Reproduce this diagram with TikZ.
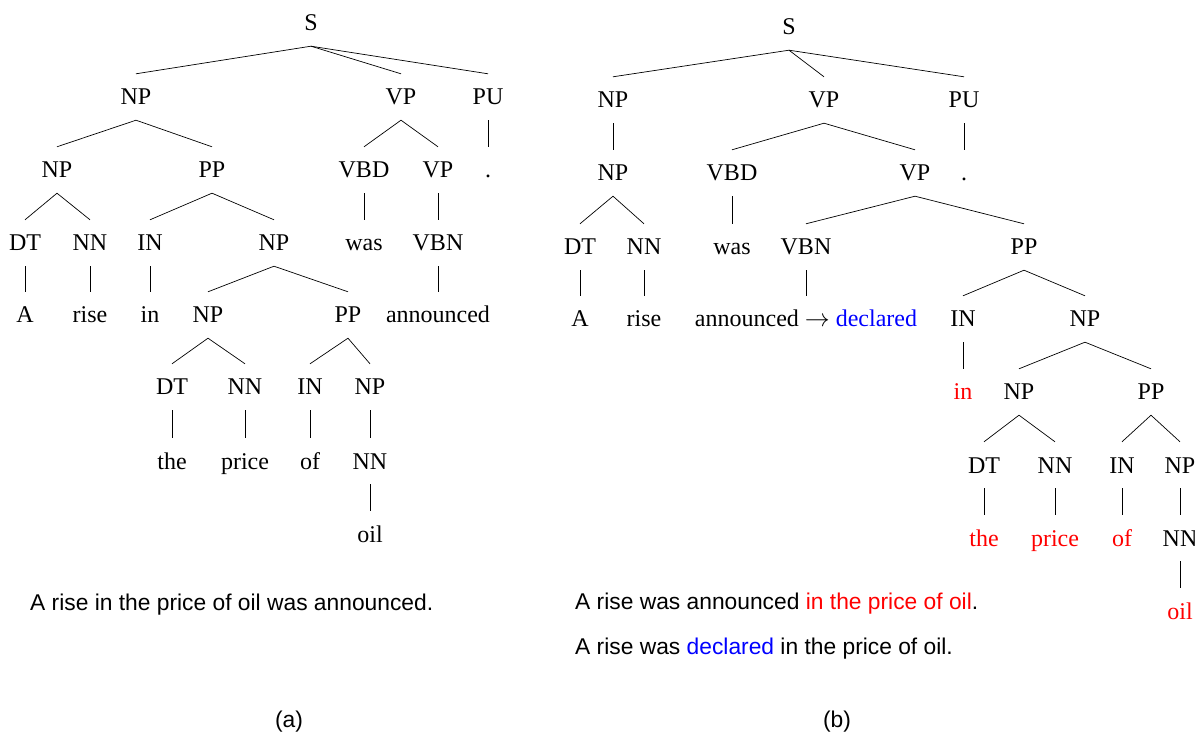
\documentclass[tikz,border=0pt]{standalone}
\usepackage{fontspec}
\setmainfont{Liberation Serif}
\setsansfont{Liberation Sans}
\usepackage{tikz}
\tikzstyle{tag}=[inner xsep=0pt, inner ysep=15pt, text height=16pt, text depth=0pt,
 font=\fontsize{24}{28}\selectfont]
\tikzstyle{hl}=[tag, text=red]
\tikzstyle{sent}=[inner sep=0pt, anchor=base west, font=\sffamily\fontsize{22.8}{27}\selectfont]
\tikzstyle{subcap}=[inner sep=0pt, font=\sffamily\fontsize{22.8}{27}\selectfont]
\tikzstyle{branch}=[line width=0.7pt]
\begin{document}
\begin{tikzpicture}[x=1pt, y=-1pt]
	\useasboundingbox (0,0) rectangle (1195,735);

	    % Tree (a)
		\node[tag] (lS) at (311,23) {S};
		\foreach \xpos/\lab/\txt in {136/lNPa/NP, 401/lVPa/VP, 488/lPU/PU}
		\node[tag] (\lab) at (\xpos,97) {\txt};
		\foreach \xpos/\lab/\txt in {57/lNPb/NP, 212/lPPa/PP, 364/lVBD/VBD, 438/lVPb/VP, 488/lDot/.}
		\node[tag] (\lab) at (\xpos,170) {\txt};
		\foreach \xpos/\lab/\txt in {25/lDTa/DT, 90/lNNa/NN, 150/lINa/IN, 274/lNPc/NP, 364/lWas/was, 438/lVBN/VBN}
		\node[tag] (\lab) at (\xpos,243) {\txt};
		\foreach \xpos/\lab/\txt in {25/lA/A, 90/lRise/rise, 150/lIn/in, 208/lNPd/NP, 348/lPPb/PP, 438/lAnn/announced}
		\node[tag] (\lab) at (\xpos,315) {\txt};
		\foreach \xpos/\lab/\txt in {172/lDTb/DT, 245/lNNb/NN, 310/lINb/IN, 370/lNPe/NP}
		\node[tag] (\lab) at (\xpos,387) {\txt};
		\foreach \xpos/\lab/\txt in {172/lThe/the, 245/lPrice/price, 310/lOf/of, 370/lNNc/NN}
		\node[tag] (\lab) at (\xpos,461) {\txt};
		\node[tag] (lOil) at (370,534) {oil};

		\foreach \from/\to in {lS/lNPa, lS/lVPa, lS/lPU, lNPa/lNPb, lNPa/lPPa, lVPa/lVBD, lVPa/lVPb,
		  lPU/lDot, lNPb/lDTa, lNPb/lNNa, lPPa/lINa, lPPa/lNPc, lVBD/lWas, lVPb/lVBN,
		  lDTa/lA, lNNa/lRise, lINa/lIn, lNPc/lNPd, lNPc/lPPb, lVBN/lAnn,
		  lNPd/lDTb, lNPd/lNNb, lPPb/lINb, lPPb/lNPe, lDTb/lThe, lNNb/lPrice, lINb/lOf,
		  lNPe/lNNc, lNNc/lOil}
		\draw[branch] (\from.south) -- (\to.north);

	    % Tree (b)
		\node[tag] (rS) at (789,27) {S};
		\foreach \xpos/\lab/\txt in {613/rNPa/NP, 824/rVPa/VP, 964/rPU/PU}
		\node[tag] (\lab) at (\xpos,100) {\txt};
		\foreach \xpos/\lab/\txt in {613/rNPb/NP, 732/rVBD/VBD, 915/rVPb/VP, 964/rDot/.}
		\node[tag] (\lab) at (\xpos,173) {\txt};
		\foreach \xpos/\lab/\txt in {580/rDTa/DT, 644/rNNa/NN, 732/rWas/was, 806/rVBN/VBN, 1024/rPPa/PP}
		\node[tag] (\lab) at (\xpos,247) {\txt};
		\foreach \xpos/\lab/\txt in {580/rA/A, 644/rRise/rise, 963/rINa/IN, 1085/rNPc/NP}
		\node[tag] (\lab) at (\xpos,319) {\txt};
		\node[tag] (rAnn) at (806,319) {announced $\rightarrow$ \textcolor{blue}{declared}};
		\node[hl] (rIn) at (963,392) {in};
		\foreach \xpos/\lab/\txt in {1019/rNPd/NP, 1151/rPPb/PP}
		\node[tag] (\lab) at (\xpos,392) {\txt};
		\foreach \xpos/\lab/\txt in {984/rDTb/DT, 1055/rNNb/NN, 1122/rINb/IN, 1180/rNPe/NP}
		\node[tag] (\lab) at (\xpos,465) {\txt};
		\foreach \xpos/\lab/\txt in {984/rThe/the, 1055/rPrice/price, 1122/rOf/of}
		\node[hl] (\lab) at (\xpos,538) {\txt};
		\node[tag] (rNNc) at (1180,538) {NN};
		\node[hl] (rOil) at (1180,611) {oil};

		\foreach \from/\to in {rS/rNPa, rS/rVPa, rS/rPU, rNPa/rNPb, rVPa/rVBD, rVPa/rVPb, rPU/rDot,
		  rNPb/rDTa, rNPb/rNNa, rVBD/rWas, rVPb/rVBN, rVPb/rPPa,
		  rDTa/rA, rNNa/rRise, rVBN/rAnn, rPPa/rINa, rPPa/rNPc,
		  rINa/rIn, rNPc/rNPd, rNPc/rPPb, rNPd/rDTb, rNPd/rNNb, rPPb/rINb, rPPb/rNPe,
		  rDTb/rThe, rNNb/rPrice, rINb/rOf, rNPe/rNNc, rNNc/rOil}
		\draw[branch] (\from.south) -- (\to.north);

	    % Sentences and captions
		\node[sent] (sa) at (30,610) {A rise in the price of oil was announced.};
		\node[sent] (sb1) at (575,609) {A rise was announced \textcolor{red}{in the price of oil}.};
		\node[sent] (sb2) at (575,654) {A rise was \textcolor{blue}{declared} in the price of oil.};
		\node[subcap] (ca) at (289,722) {(a)};
		\node[subcap] (cb) at (837,722) {(b)};
\end{tikzpicture}
\end{document}
